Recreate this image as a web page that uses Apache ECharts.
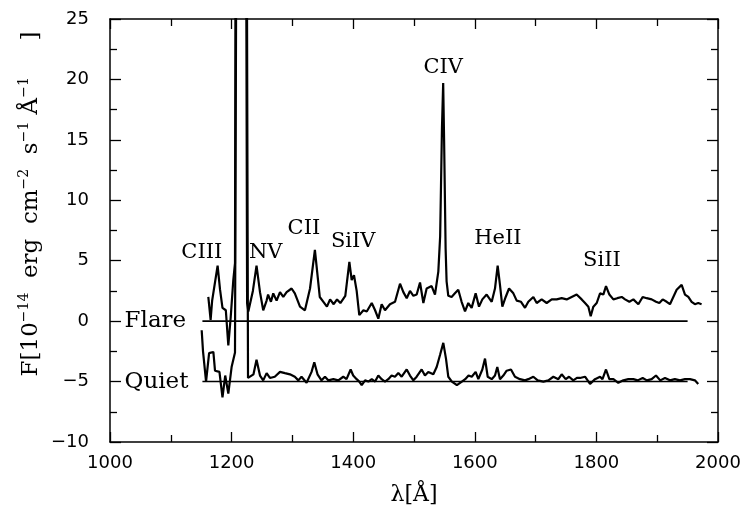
<!DOCTYPE html>
<html><head><meta charset="utf-8">
<script src="https://cdn.jsdelivr.net/npm/echarts@6/dist/echarts.min.js"></script>
<style>html,body{margin:0;padding:0;background:#fff}#c{width:747px;height:517px}</style>
</head><body><div id="c"></div>
<script>
// Flare spectrum
const flareWave = [1161.7,1165.5,1168,1171,1177,1181,1185,1190.5,1194.6,1198.5,1202.8,1205.6,1207.5,1222.5,1225.5,1227.5,1235,1241,1246.7,1252,1257.6,1260,1264.7,1268.5,1274,1279.6,1285,1290.5,1298.7,1304,1312.5,1320.6,1329,1337,1345,1351,1356.8,1362,1367.9,1373.4,1378.9,1387,1393.7,1397.5,1401.3,1405.7,1410,1416.8,1422.3,1430.5,1436,1441.3,1446.8,1452.3,1460.5,1468.8,1477,1482.5,1488,1493.4,1499,1504.4,1509.9,1515.4,1520.8,1529,1534.5,1540,1543,1546,1548,1549.5,1552,1553.6,1556.4,1561.8,1567.3,1572.8,1578.3,1583.9,1589.3,1594.8,1601.4,1606.9,1612.4,1619.5,1627.8,1633.2,1637.6,1641.4,1645.3,1650.8,1656.3,1663.4,1668.9,1676,1682.6,1688,1696.3,1701.8,1710,1718.2,1726.5,1734.7,1742.9,1751.1,1759.3,1767.5,1775.8,1781.3,1786.8,1790.6,1795,1800.5,1806,1811.4,1815.8,1821.3,1827.9,1834.4,1841.6,1847.1,1854.2,1860.8,1869,1876.1,1882.7,1890.9,1898,1903.5,1909,1915.6,1921,1926.5,1932,1940.2,1945.7,1951.2,1956.6,1962,1967.5,1973];
const flareFlux = [2.0,0.1,1.7,1.6,4.6,2.6,1.1,0.9,-2.0,0.3,3.4,4.8,60,60,1.5,0.8,2.5,4.6,2.4,0.9,1.7,2.2,1.6,2.3,1.7,2.4,2.0,2.4,2.7,2.3,1.2,0.9,2.7,5.9,2.0,1.6,1.2,1.8,1.4,1.8,1.5,2.1,4.9,3.4,3.8,2.5,0.5,0.9,0.8,1.5,0.9,0.2,1.4,0.9,1.4,1.6,3.1,2.4,1.9,2.5,2.1,2.2,3.2,1.5,2.7,2.9,2.2,4.1,7,16,19.7,15,6,3.3,2.1,2.0,2.3,2.6,1.6,0.8,1.5,1.1,2.3,1.2,1.8,2.2,1.6,2.7,4.6,3.0,1.2,2.0,2.7,2.3,1.7,1.6,1.1,1.6,2.0,1.5,1.8,1.5,1.8,1.8,1.9,1.8,2.0,2.2,1.8,1.5,1.2,0.4,1.2,1.5,2.3,2.2,2.9,2.2,1.8,1.9,2.0,1.8,1.6,1.8,1.4,2.0,1.9,1.8,1.6,1.5,1.8,1.6,1.4,2.0,2.6,3.0,2.2,2.0,1.6,1.4,1.5,1.4];
// Quiet spectrum (offset by -5)
const quietWave = [1150.8,1153,1158,1163,1170,1172.7,1180,1185,1189.5,1194.6,1200,1205.6,1209.5,1223.5,1227,1230,1236,1241,1246.7,1252,1257.6,1263,1271,1279.6,1287.7,1296,1304,1309.8,1315,1323.3,1331.5,1336,1341.3,1347.9,1353.6,1359,1367.3,1375.5,1383.7,1389,1395.8,1400,1405.7,1410,1414,1419.5,1425,1430.5,1436,1441.3,1446.8,1452.3,1457.7,1463.2,1468.7,1474.2,1479.7,1488,1493.4,1499,1504.4,1512.6,1518,1523.5,1531.8,1537.3,1542.8,1548.2,1552.6,1556.4,1562.3,1570.5,1578.7,1584.2,1589.7,1595,1601.4,1605.8,1612.4,1616.8,1621.2,1627.8,1633.2,1637,1641.4,1646.9,1652.4,1659.5,1666.1,1674.3,1682.6,1688,1696.3,1703.4,1712.8,1721,1729.2,1737.4,1742.9,1749.5,1755,1762,1768,1773,1781.3,1789.5,1797.7,1806,1810,1815.8,1821.3,1828,1836,1844.3,1852.5,1860.8,1868,1876.1,1883,1890.9,1898,1905,1912.8,1921,1929,1937.5,1945.7,1953.9,1962,1967.5];
const quietFlux = [-0.75,-2.5,-5.0,-2.65,-2.55,-4.1,-4.2,-6.3,-4.5,-6.0,-3.8,-2.6,60,60,-4.7,-4.7,-4.4,-3.2,-4.5,-4.9,-4.3,-4.7,-4.6,-4.2,-4.3,-4.4,-4.6,-4.9,-4.6,-5.1,-4.2,-3.4,-4.4,-4.9,-4.6,-4.9,-4.8,-4.9,-4.6,-4.8,-4.0,-4.5,-4.8,-5.0,-5.3,-4.9,-5.0,-4.8,-5.0,-4.5,-4.8,-5.0,-4.8,-4.5,-4.6,-4.3,-4.6,-4.0,-4.5,-4.9,-4.6,-4.0,-4.5,-4.2,-4.4,-3.8,-2.8,-1.8,-3.1,-4.6,-5.0,-5.3,-5.0,-4.8,-4.5,-4.6,-4.2,-4.8,-4.0,-3.1,-4.6,-4.8,-4.5,-3.8,-4.8,-4.5,-4.1,-4.0,-4.6,-4.8,-4.9,-4.8,-4.6,-4.9,-5.0,-4.9,-4.6,-4.8,-4.4,-4.8,-4.6,-4.9,-4.7,-4.7,-4.6,-5.2,-4.8,-4.6,-4.8,-4.0,-4.8,-4.8,-5.1,-4.9,-4.8,-4.8,-4.9,-4.7,-4.9,-4.8,-4.5,-4.9,-4.7,-4.9,-4.8,-4.9,-4.8,-4.8,-4.9,-5.2];
// Reference zero lines
const baseWave = [1152, 1950];
const flareBase = [0, 0];
const quietBase = [-5, -5];
// Line identifications
const lineNames = ['CIII','NV','CII','SiIV','CIV','HeII','SiII'];
const lineWave = [1151, 1256, 1319, 1400, 1548, 1638, 1809];
const lineFlux = [5.7, 5.7, 7.7, 6.6, 21.0, 6.8, 5.05];
const specNames = ['Flare','Quiet'];
const specWave = [1024, 1024];
const specFlux = [0, -5];
// Tick labels
const xTickLabels = [1000,1200,1400,1600,1800,2000];
const yTickLabels = [-10,-5,0,5,10,15,20,25];

const zip = (a,b) => a.map((v,i)=>[v,b[i]]);
const K = '#000';
const serif = 'DejaVu Serif';
const sans = 'DejaVu Sans';
const xStep = xTickLabels[1]-xTickLabels[0];
const yStep = yTickLabels[1]-yTickLabels[0];

const mkX = (pos, labels) => ({
  type:'value', position:pos, min:xTickLabels[0], max:xTickLabels[xTickLabels.length-1], interval:xStep,
  axisLine:{show:true, onZero:false, lineStyle:{color:K, width:1.5}},
  axisTick:{show:true, inside:true, length:10, lineStyle:{color:K, width:1.3}},
  minorTick:{show:true, splitNumber:2, length:7, lineStyle:{color:K, width:1.3}},
  splitLine:{show:false}, minorSplitLine:{show:false},
  axisLabel:{show:labels, color:K, fontFamily:sans, fontSize:18, margin:12, showMinLabel:true, showMaxLabel:true,
    formatter:v=>String(v)},
  name: labels ? 'λ[Å]' : '', nameLocation:'middle', nameGap:42,
  nameTextStyle:{color:K, fontFamily:serif, fontSize:22}
});
const mkY = (pos, labels) => ({
  type:'value', position:pos, min:yTickLabels[0], max:yTickLabels[yTickLabels.length-1], interval:yStep,
  axisLine:{show:true, onZero:false, lineStyle:{color:K, width:1.5}},
  axisTick:{show:true, inside:true, length:11, lineStyle:{color:K, width:1.3}},
  minorTick:{show:true, splitNumber:2, length:7, lineStyle:{color:K, width:1.3}},
  splitLine:{show:false}, minorSplitLine:{show:false},
  axisLabel:{show:labels, color:K, fontFamily:sans, fontSize:18, margin:21, showMinLabel:true, showMaxLabel:true,
    formatter:v=> (v<0? '\u2212'+Math.abs(v) : String(v))}
});

const chart = echarts.init(document.getElementById('c'), null, {renderer:'canvas'});
chart.setOption({
  animation:false,
  backgroundColor:'#fff',
  grid:{left:110, right:29, top:19, bottom:75, outerBoundsMode:'none'},
  xAxis:[mkX('bottom', true), mkX('top', false)],
  yAxis:[mkY('left', true), mkY('right', false)],
  graphic:[{
    type:'text', x:28, y:204, rotation:Math.PI/2,
    style:{
      text:'{n|F[10}{s|\u221214}{n|  erg  cm}{s|\u22122}{n|  s}{s|\u22121}{n| Å}{s|\u22121}{n|     ]}',
      align:'center', verticalAlign:'middle',
      rich:{
        n:{fontFamily:serif, fontSize:23, fill:K, lineHeight:30, verticalAlign:'bottom'},
        s:{fontFamily:serif, fontSize:14, fill:K, lineHeight:30, verticalAlign:'top', padding:[4,0,0,0]}
      }
    }
  }],
  series:[
    {type:'line', data:zip(baseWave, flareBase), symbol:'none', lineStyle:{color:K, width:1.6}, silent:true},
    {type:'line', data:zip(baseWave, quietBase), symbol:'none', lineStyle:{color:K, width:1.6}, silent:true},
    {type:'line', data:zip(flareWave, flareFlux), symbol:'none', clip:true, lineStyle:{color:K, width:2.2}, silent:true},
    {type:'line', data:zip(quietWave, quietFlux), symbol:'none', clip:true, lineStyle:{color:K, width:2.2}, silent:true},
    {type:'scatter', symbolSize:0, silent:true, clip:false, itemStyle:{opacity:1},
      data:lineNames.map((n,i)=>({name:n, value:[lineWave[i], lineFlux[i]]})),
      label:{show:true, position:'inside', formatter:p=>p.name, color:K, opacity:1, fontFamily:serif, fontSize:21}},
    {type:'scatter', symbolSize:0, silent:true, clip:false, itemStyle:{opacity:1},
      data:specNames.map((n,i)=>({name:n, value:[specWave[i], specFlux[i]]})),
      label:{show:true, position:'inside', align:'left', formatter:p=>p.name, color:K, opacity:1, fontFamily:serif, fontSize:23}}
  ]
});
</script></body></html>
